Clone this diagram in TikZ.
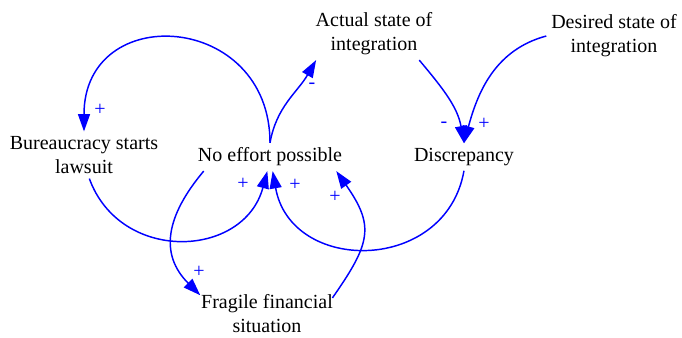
\documentclass[tikz,border=0pt]{standalone}
\usepackage{fontspec}
\setmainfont{Liberation Serif}
\usetikzlibrary{arrows.meta}
\definecolor{LinkBlue}{HTML}{0000FF}

\begin{document}
\begin{tikzpicture}[
  x=0.75pt,y=0.75pt,
  var/.style={align=center,inner sep=3.5pt,font=\fontsize{15}{18}\selectfont},
  link/.style={-{Triangle[length=13pt,width=9pt]},line width=1.1pt,draw=LinkBlue},
  sign/.style={text=LinkBlue,inner sep=0pt,font=\fontsize{15}{18}\selectfont}
]
\useasboundingbox (0,0) rectangle (682,337);
\node[var] (actual) at (374,303) {Actual state of\\integration};
\node[var] (desired) at (614,301) {Desired state of\\integration};
\node[var] (bureau) at (84,182) {Bureaucracy starts\\lawsuit};
\node[var] (noeff) at (270,180) {No effort possible};
\node[var] (discr) at (464,180) {Discrepancy};
\node[var] (fragile) at (267,23) {Fragile financial\\situation};
\draw[link] (noeff.north) to[out=90,in=90,looseness=1.8] (bureau.north);
\draw[link] (noeff.north) to[out=80,in=240] ([xshift=4pt]actual.south west);
\draw[link] (actual.-30) to[out=-50,in=100] (discr.north);
\draw[link] (desired.west) to[out=195,in=75] (discr.north);
\draw[link] ([xshift=4pt]bureau.south) to[out=-70,in=-105,looseness=1.3] ([xshift=-2pt]noeff.south);
\draw[link] (discr.south) to[out=-100,in=-80,looseness=1.4] ([xshift=2pt]noeff.south);
\draw[link] ([xshift=8pt]noeff.south west) to[out=-130,in=135,looseness=1.2] ([xshift=3pt,yshift=-4pt]fragile.north west);
\draw[link] ([xshift=-4pt,yshift=-6pt]fragile.north east) to[out=55,in=-55,looseness=1.35] ([xshift=-8pt]noeff.south east);
% polarities
\node[sign] (s1) at (100,227) {+};
\node[sign] (s2) at (312,251) {-};
\node[sign] (s3) at (444,212) {-};
\node[sign] (s4) at (484,213) {+};
\node[sign] (s5) at (243,153) {+};
\node[sign] (s6) at (295,152) {+};
\node[sign] (s7) at (199,65) {+};
\node[sign] (s8) at (335,140) {+};
\end{tikzpicture}
\end{document}
